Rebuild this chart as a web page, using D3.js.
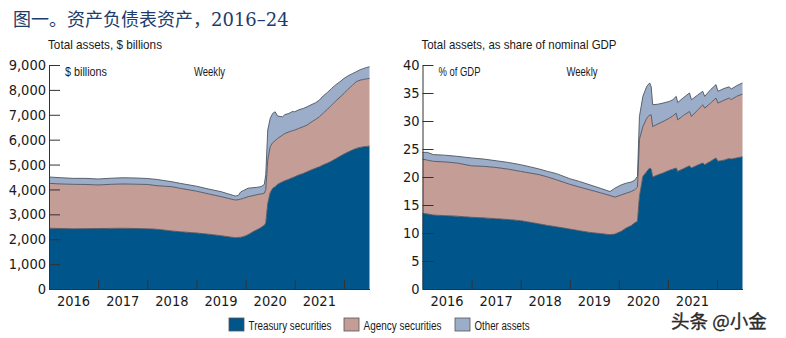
<!DOCTYPE html>
<html>
<head>
<meta charset="utf-8">
<script src="https://cdn.jsdelivr.net/npm/d3@7/dist/d3.min.js"></script>
<style>
  body { margin: 0; background: #fff; }
  .tick text, .yearlab { font-family: "DejaVu Sans Condensed", "DejaVu Sans", sans-serif; font-size: 14.5px; fill: #1a1a1a; }
  .narrow { font-family: "Liberation Sans Narrow", "Arial Narrow", "Liberation Sans", sans-serif; fill: #1a1a1a; }
</style>
</head>
<body>
<svg id="chart" width="786" height="338"></svg>
<script>
// series keys / legend
var seriesKeys = ["treasury", "agency", "other"];
var seriesNames = ["Treasury securities", "Agency securities", "Other assets"];
var seriesColors = ["#00558b", "#c39d96", "#9badc9"];
var yearLabels = [2016, 2017, 2018, 2019, 2020, 2021];

// $ billions, weekly readings (decimal year)
var bnDates = [2016.00, 2016.25, 2016.50, 2016.75, 2017.00, 2017.25, 2017.50, 2017.75, 2018.00, 2018.20,
  2018.50, 2018.67, 2019.00, 2019.25, 2019.50, 2019.79, 2019.85, 2019.90, 2019.95, 2020.05,
  2020.15, 2020.25, 2020.32, 2020.38, 2020.41, 2020.45, 2020.50, 2020.55, 2020.60, 2020.65,
  2020.75, 2020.80, 2020.88, 2020.95, 2021.00, 2021.08, 2021.17, 2021.25, 2021.33, 2021.42,
  2021.50, 2021.58, 2021.67, 2021.75, 2021.83, 2021.92, 2022.00, 2022.08, 2022.17, 2022.25,
  2022.33, 2022.40, 2022.46, 2022.52];
var bnTreasury = [2440, 2430, 2420, 2425, 2430, 2435, 2440, 2430, 2420, 2400,
  2330, 2300, 2250, 2200, 2140, 2060, 2070, 2080, 2100, 2180,
  2300, 2400, 2480, 2560, 2650, 3440, 3870, 4045, 4110, 4205,
  4310, 4350, 4410, 4470, 4510, 4580, 4640, 4710, 4780, 4850,
  4910, 4990, 5060, 5140, 5230, 5330, 5420, 5500, 5580, 5650,
  5690, 5715, 5730, 5740];
var bnAgency = [1805, 1790, 1785, 1775, 1750, 1770, 1780, 1780, 1780, 1750,
  1780, 1745, 1680, 1620, 1570, 1515, 1520, 1530, 1540, 1530,
  1450, 1400, 1340, 1290, 1350, 1740, 1845, 1835, 1850, 1845,
  1875, 1900, 1900, 1890, 1875, 1870, 1880, 1875, 1920, 1960,
  2010, 2080, 2170, 2250, 2320, 2380, 2440, 2520, 2600, 2680,
  2700, 2705, 2715, 2720];
var bnOther = [255, 250, 240, 245, 240, 245, 250, 250, 240, 250,
  200, 200, 200, 195, 200, 160, 170, 290, 310, 340,
  320, 290, 300, 350, 600, 1205, 1140, 1175, 1160, 900,
  735, 760, 740, 770, 735, 750, 730, 735, 700, 670,
  670, 690, 680, 670, 650, 620, 600, 540, 470, 400,
  420, 440, 455, 470];

// % of nominal GDP
var gdpDates = [2016.00, 2016.10, 2016.22, 2016.45, 2016.70, 2017.00, 2017.25, 2017.50, 2017.75, 2018.00,
  2018.20, 2018.39, 2018.55, 2018.73, 2019.00, 2019.20, 2019.41, 2019.62, 2019.82, 2019.92,
  2020.05, 2020.15, 2020.25, 2020.32, 2020.38, 2020.42, 2020.49, 2020.57, 2020.63, 2020.66,
  2020.69, 2020.80, 2020.90, 2021.03, 2021.10, 2021.17, 2021.20, 2021.32, 2021.44, 2021.48,
  2021.60, 2021.71, 2021.75, 2021.87, 2021.98, 2022.02, 2022.14, 2022.25, 2022.29, 2022.40,
  2022.52];
var gdpTreasury = [13.5, 13.4, 13.2, 13.1, 13.0, 12.8, 12.7, 12.55, 12.4, 12.2,
  11.9, 11.6, 11.35, 11.1, 10.7, 10.4, 10.1, 9.9, 9.7, 9.8,
  10.3, 10.9, 11.3, 11.8, 12.1, 16.5, 20.1, 21.0, 21.6, 21.4,
  20.0, 20.4, 20.7, 21.2, 21.4, 21.6, 21.0, 21.5, 22.0, 21.6,
  22.1, 22.5, 22.2, 22.8, 23.4, 22.8, 23.0, 23.3, 23.2, 23.4,
  23.6];
var gdpAgency = [9.7, 9.6, 9.6, 9.6, 9.5, 9.2, 9.2, 9.15, 9.0, 8.8,
  8.8, 8.8, 8.65, 8.4, 8.0, 7.8, 7.6, 7.3, 7.0, 6.6,
  6.5, 6.2, 6.1, 5.9, 6.1, 10.2, 8.9, 9.5, 9.5, 9.7,
  9.0, 9.1, 9.2, 9.3, 9.5, 9.8, 9.2, 9.5, 9.7, 9.2,
  9.8, 10.4, 10.1, 10.4, 10.7, 10.4, 10.7, 10.8, 10.6, 11.0,
  11.2];
var gdpOther = [1.2, 1.4, 1.2, 1.2, 1.2, 1.4, 1.3, 1.2, 1.2, 1.2,
  1.1, 1.0, 1.0, 1.1, 1.0, 1.0, 0.9, 0.8, 0.7, 1.6,
  1.8, 1.8, 1.7, 1.7, 1.9, 4.1, 5.4, 5.7, 5.7, 5.0,
  3.9, 3.5, 3.3, 3.0, 2.9, 3.0, 3.1, 3.2, 3.3, 3.0,
  2.7, 2.4, 2.1, 2.4, 2.4, 2.1, 2.1, 2.0, 1.9, 1.9,
  2.0];

var svg = d3.select("#chart");

// title
svg.append("text")
  .attr("x", 13).attr("y", 26)
  .attr("fill", "#1d3c6c")
  .style("font-family", "'DejaVu Serif', 'Noto Sans CJK SC', serif")
  .style("font-size", "18px")
  .text("图一。资产负债表资产，2016–24");

// condensed label: squeeze the text into the given width
function narrowText(sel, x, y, size, width, str) {
  return sel.append("text")
    .attr("class", "narrow")
    .attr("x", x).attr("y", y)
    .attr("textLength", width)
    .attr("lengthAdjust", "spacingAndGlyphs")
    .style("font-size", size + "px")
    .text(str);
}

function drawPanel(p) {
  var rows = p.dates.map(function(d, i) {
    return {date: d, treasury: p.treasury[i], agency: p.agency[i], other: p.other[i]};
  });
  var stacked = d3.stack().keys(seriesKeys)(rows);

  var x = d3.scaleLinear().domain([2016, 2022.52]).range([p.left, p.right]);
  var y = d3.scaleLinear().domain([0, p.yMax]).range([p.bottom, p.top]);

  var g = svg.append("g");

  var area = d3.area()
    .x(function(d) { return x(d.data.date); })
    .y0(function(d) { return y(d[0]); })
    .y1(function(d) { return y(d[1]); });
  var edge = d3.line()
    .x(function(d) { return x(d.data.date); })
    .y(function(d) { return y(d[1]); });

  g.selectAll("path.layer")
    .data(stacked)
    .enter().append("path")
      .attr("class", "layer")
      .attr("d", area)
      .attr("fill", function(d, i) { return seriesColors[i]; });

  g.selectAll("path.edge")
    .data(stacked)
    .enter().append("path")
      .attr("class", "edge")
      .attr("d", edge)
      .attr("fill", "none")
      .attr("stroke", "#4d5560")
      .attr("stroke-width", 0.9);

  // y axis, ticks pointing into the plot
  var yAxis = g.append("g")
    .attr("transform", "translate(" + p.left + ",0)")
    .call(d3.axisLeft(y)
      .tickValues(d3.range(0, p.yMax + 1, p.yStep))
      .tickSize(-11)
      .tickSizeOuter(0)
      .tickPadding(3)
      .tickFormat(p.fmt));
  yAxis.selectAll("line, path").attr("stroke", "#333");

  // x axis: year boundaries, labels centred on each year
  var xAxis = g.append("g")
    .attr("transform", "translate(0," + p.bottom + ")")
    .call(d3.axisBottom(x)
      .tickValues([2017, 2018, 2019, 2020, 2021, 2022])
      .tickSize(-9)
      .tickSizeOuter(0)
      .tickFormat(""));
  xAxis.selectAll("line, path").attr("stroke", "#333");

  g.selectAll("text.yearlab")
    .data(yearLabels)
    .enter().append("text")
      .attr("class", "yearlab")
      .attr("x", function(d) { return x(d + 0.5); })
      .attr("y", p.bottom + 17)
      .attr("text-anchor", "middle")
      .text(function(d) { return d; });

  narrowText(g, p.left - 1, 49, 13, p.subtitleWidth, p.subtitle);
  narrowText(g, p.left + 16, 76, 12.5, p.unitWidth, p.unit);
  narrowText(g, p.left + p.weeklyOffset, 76, 12.5, 31, "Weekly");
}

drawPanel({
  dates: bnDates, treasury: bnTreasury, agency: bnAgency, other: bnOther,
  left: 49, right: 369.5, top: 65, bottom: 289,
  yMax: 9000, yStep: 1000, fmt: d3.format(","),
  subtitle: "Total assets, $ billions", subtitleWidth: 114,
  unit: "$ billions", unitWidth: 42, weeklyOffset: 145
});

drawPanel({
  dates: gdpDates, treasury: gdpTreasury, agency: gdpAgency, other: gdpOther,
  left: 422.5, right: 742.5, top: 65, bottom: 289,
  yMax: 40, yStep: 5, fmt: d3.format("d"),
  subtitle: "Total assets, as share of nominal GDP", subtitleWidth: 195,
  unit: "% of GDP", unitWidth: 42, weeklyOffset: 144
});

// legend
var legendX = [229, 344, 455];
var legendW = [83, 78, 55];
var legend = svg.selectAll("g.legend")
  .data(seriesNames)
  .enter().append("g")
    .attr("class", "legend")
    .attr("transform", function(d, i) { return "translate(" + legendX[i] + ",318)"; });
legend.append("rect")
  .attr("width", 15).attr("height", 13)
  .attr("fill", function(d, i) { return seriesColors[i]; })
  .attr("stroke", "#555").attr("stroke-width", 0.8);
legend.each(function(d, i) {
  narrowText(d3.select(this), 19.5, 11.5, 12.5, legendW[i], d);
});

// watermark
svg.append("text")
  .attr("x", 671).attr("y", 328)
  .attr("fill", "#2b2b2b")
  .attr("stroke", "#2b2b2b").attr("stroke-width", 0.35)
  .style("font-family", "'Noto Sans CJK SC', sans-serif")
  .style("font-size", "18.5px")
  .text("头条 @小金");
</script>
</body>
</html>
